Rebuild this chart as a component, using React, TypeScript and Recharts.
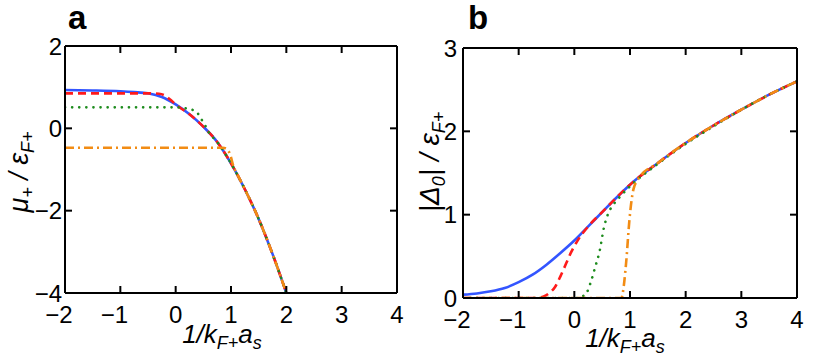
import { LineChart, Line, XAxis, YAxis } from "recharts";

// shared x ticks (1/kF+ as)
const xTicks = [-2, -1, 0, 1, 2, 3, 4];
const muTicks = [-4, -2, 0, 2];
const gapTicks = [0, 1, 2, 3];

// panel a: mu+ / eF+
const muSolid: [number, number][] = [
  [-2, 0.93], [-1.5, 0.92], [-1, 0.9], [-0.75, 0.88], [-0.5, 0.85], [-0.25, 0.76],
  [0, 0.58], [0.25, 0.34], [0.5, 0.04], [0.75, -0.33], [1, -0.85], [1.25, -1.48],
  [1.5, -2.2], [1.75, -3.05], [2, -4],
];
const muDashed: [number, number][] = [
  [-2, 0.85], [-0.5, 0.85], [-0.3, 0.84], [-0.2, 0.8], [-0.1, 0.7], [0, 0.58],
  [0.25, 0.34], [0.5, 0.04], [0.75, -0.33], [1, -0.85], [1.25, -1.48],
  [1.5, -2.2], [1.75, -3.05], [2, -4],
];
const muDotted: [number, number][] = [
  [-2, 0.51], [0, 0.51], [0.2, 0.48], [0.37, 0.41], [0.45, 0.25], [0.53, 0.08],
  [0.6, -0.1], [0.75, -0.33], [1, -0.85], [1.25, -1.48], [1.5, -2.2], [1.75, -3.05], [2, -4],
];
const muDashDot: [number, number][] = [
  [-2, -0.47], [0.85, -0.47], [0.92, -0.5], [0.98, -0.62], [1.05, -0.95], [1.1, -1.08],
  [1.25, -1.48], [1.5, -2.2], [1.75, -3.05], [2, -4],
];

// panel b: |Delta0| / eF+
const gapSolid: [number, number][] = [
  [-2, 0.04], [-1.75, 0.055], [-1.5, 0.08], [-1.25, 0.12], [-1, 0.19], [-0.75, 0.28],
  [-0.5, 0.4], [-0.25, 0.54], [0, 0.69], [0.25, 0.86], [0.5, 1.03], [0.75, 1.2],
  [1, 1.36], [1.5, 1.62], [2, 1.86], [2.5, 2.07], [3, 2.26], [3.5, 2.44], [4, 2.6],
];
const gapDashed: [number, number][] = [
  [-2, 0], [-0.7, 0], [-0.55, 0.02], [-0.45, 0.06], [-0.35, 0.13], [-0.25, 0.26],
  [-0.15, 0.41], [-0.05, 0.56], [0.05, 0.68], [0.25, 0.86], [0.5, 1.03], [0.75, 1.2],
  [1, 1.36], [1.5, 1.62], [2, 1.86], [2.5, 2.07], [3, 2.26], [3.5, 2.44], [4, 2.6],
];
const gapDotted: [number, number][] = [
  [-2, 0], [0.05, 0], [0.15, 0.02], [0.22, 0.06], [0.3, 0.2], [0.37, 0.36],
  [0.46, 0.58], [0.53, 0.84], [0.6, 1.0], [0.7, 1.12], [0.8, 1.2], [1, 1.34],
  [1.5, 1.61], [2, 1.85], [2.5, 2.06], [3, 2.26], [3.5, 2.44], [4, 2.6],
];
const gapDashDot: [number, number][] = [
  [-2, 0], [0.85, 0], [0.87, 0.06], [0.93, 0.42], [0.99, 0.94], [1.06, 1.3],
  [1.15, 1.43], [1.5, 1.62], [2, 1.86], [2.5, 2.07], [3, 2.26],
  [3.5, 2.44], [4, 2.6],
];

const pts = (a: [number, number][]) => a.map(([x, y]) => ({ x, y }));

const FONT = "'Liberation Sans', Arial, Helvetica, sans-serif";
const TICK = 7;
const TICK_FS = 24;
const fmt = (v: number) => (v < 0 ? `\u2212${-v}` : `${v}`);

function BottomTick({ x, y, payload }: any) {
  const v = payload.value;
  return (
    <g>
      <line x1={x} x2={x} y1={y} y2={y - TICK} stroke="#000" strokeWidth={2} />
      <text x={v < 0 ? x - 6 : x} y={y + 30} textAnchor="middle" fontSize={TICK_FS} fontFamily={FONT} fill="#000">
        {fmt(v)}
      </text>
    </g>
  );
}
function TopTick({ x, y }: any) {
  return <line x1={x} x2={x} y1={y} y2={y + TICK} stroke="#000" strokeWidth={2} />;
}
function makeLeftTick(gap: number) {
  return ({ x, y, payload }: any) => (
    <g>
      <line x1={x} x2={x + TICK} y1={y} y2={y} stroke="#000" strokeWidth={2} />
      <text x={x - gap} y={y} dy="0.36em" textAnchor="end" fontSize={TICK_FS} fontFamily={FONT} fill="#000">
        {fmt(payload.value)}
      </text>
    </g>
  );
}
function RightTick({ x, y }: any) {
  return <line x1={x} x2={x - TICK} y1={y} y2={y} stroke="#000" strokeWidth={2} />;
}

const frame = { stroke: "#000", strokeWidth: 2 };

const styles = [
  { color: "#3355ff", dash: undefined, cap: "butt" },
  { color: "#ff1a1a", dash: "8 5", cap: "butt" },
  { color: "#1e8c1e", dash: "0.1 7", cap: "round" },
  { color: "#f28c14", dash: "9 4 2 4", cap: "butt" },
];

function Panel({
  series,
  yDomain,
  yTicks,
  margin,
  width,
  labelGap,
}: {
  series: [number, number][][];
  yDomain: [number, number];
  yTicks: number[];
  margin: { top: number; right: number; bottom: number; left: number };
  width: number;
  labelGap: number;
}) {
  return (
    <LineChart width={width} height={359} margin={margin}>
      <XAxis type="number" dataKey="x" domain={[-2, 4]} ticks={xTicks} interval={0} height={1}
        tickSize={0} tickMargin={0} tickLine={false} axisLine={frame} tick={<BottomTick />} allowDataOverflow />
      <XAxis xAxisId="top" orientation="top" type="number" dataKey="x" domain={[-2, 4]} ticks={xTicks}
        interval={0} height={1} tickSize={0} tickMargin={0} tickLine={false} axisLine={frame} tick={<TopTick />} allowDataOverflow />
      <YAxis type="number" domain={yDomain} ticks={yTicks} interval={0} width={1} tickSize={0} tickMargin={0}
        tickLine={false} axisLine={frame} tick={makeLeftTick(labelGap)} allowDataOverflow />
      <YAxis yAxisId="right" orientation="right" type="number" domain={yDomain} ticks={yTicks} interval={0}
        width={1} tickSize={0} tickMargin={0} tickLine={false} axisLine={frame} tick={<RightTick />} allowDataOverflow />
      {series.map((s, i) => (
        <Line
          key={i}
          data={pts(s)}
          dataKey="y"
          type="monotone"
          stroke={styles[i].color}
          strokeWidth={2.6}
          strokeDasharray={styles[i].dash}
          strokeLinecap={styles[i].cap as any}
          dot={false}
          activeDot={false}
          isAnimationActive={false}
        />
      ))}
    </LineChart>
  );
}

const sub = 18;

export default function App() {
  return (
    <div style={{ position: "absolute", left: 0, top: 0, width: 831, height: 359, background: "#fff" }}>
      <div style={{ position: "absolute", left: 0, top: 0 }}>
        <Panel
          series={[muSolid, muDashed, muDotted, muDashDot]}
          yDomain={[-4, 2]}
          yTicks={muTicks}
          width={415}
          margin={{ top: 45, right: 17, bottom: 65, left: 64 }}
          labelGap={3}
        />
      </div>
      <div style={{ position: "absolute", left: 415, top: 0 }}>
        <Panel
          series={[gapSolid, gapDashed, gapDotted, gapDashDot]}
          yDomain={[0, 3]}
          yTicks={gapTicks}
          width={416}
          margin={{ top: 47, right: 33, bottom: 60, left: 47 }}
          labelGap={6}
        />
      </div>
      <svg width={831} height={359} style={{ position: "absolute", left: 0, top: 0, pointerEvents: "none" }}
        fontFamily={FONT}>
        <text x={68} y={29} fontSize={33} fontWeight="bold">a</text>
        <text x={468} y={29} fontSize={33} fontWeight="bold">b</text>
        <text transform="translate(28,172) rotate(-90)" textAnchor="middle" fontSize={27} fontStyle="italic">
          μ<tspan dy={6} fontSize={sub}>+</tspan><tspan dy={-6}> / ε</tspan><tspan dy={6} fontSize={sub}>F+</tspan>
        </text>
        <text transform="translate(439,162) rotate(-90)" textAnchor="middle" fontSize={28} fontStyle="italic">
          |Δ<tspan dy={6} fontSize={sub}>0</tspan><tspan dy={-6}>| / ε</tspan><tspan dy={6} fontSize={sub}>F+</tspan>
        </text>
        <text x={222} y={343} textAnchor="middle" fontSize={26} fontStyle="italic">
          1/k<tspan dy={6} fontSize={sub}>F+</tspan><tspan dy={-6}>a</tspan><tspan dy={6} fontSize={sub}>s</tspan>
        </text>
        <text x={625} y={347} textAnchor="middle" fontSize={26} fontStyle="italic">
          1/k<tspan dy={6} fontSize={sub}>F+</tspan><tspan dy={-6}>a</tspan><tspan dy={6} fontSize={sub}>s</tspan>
        </text>
      </svg>
    </div>
  );
}
